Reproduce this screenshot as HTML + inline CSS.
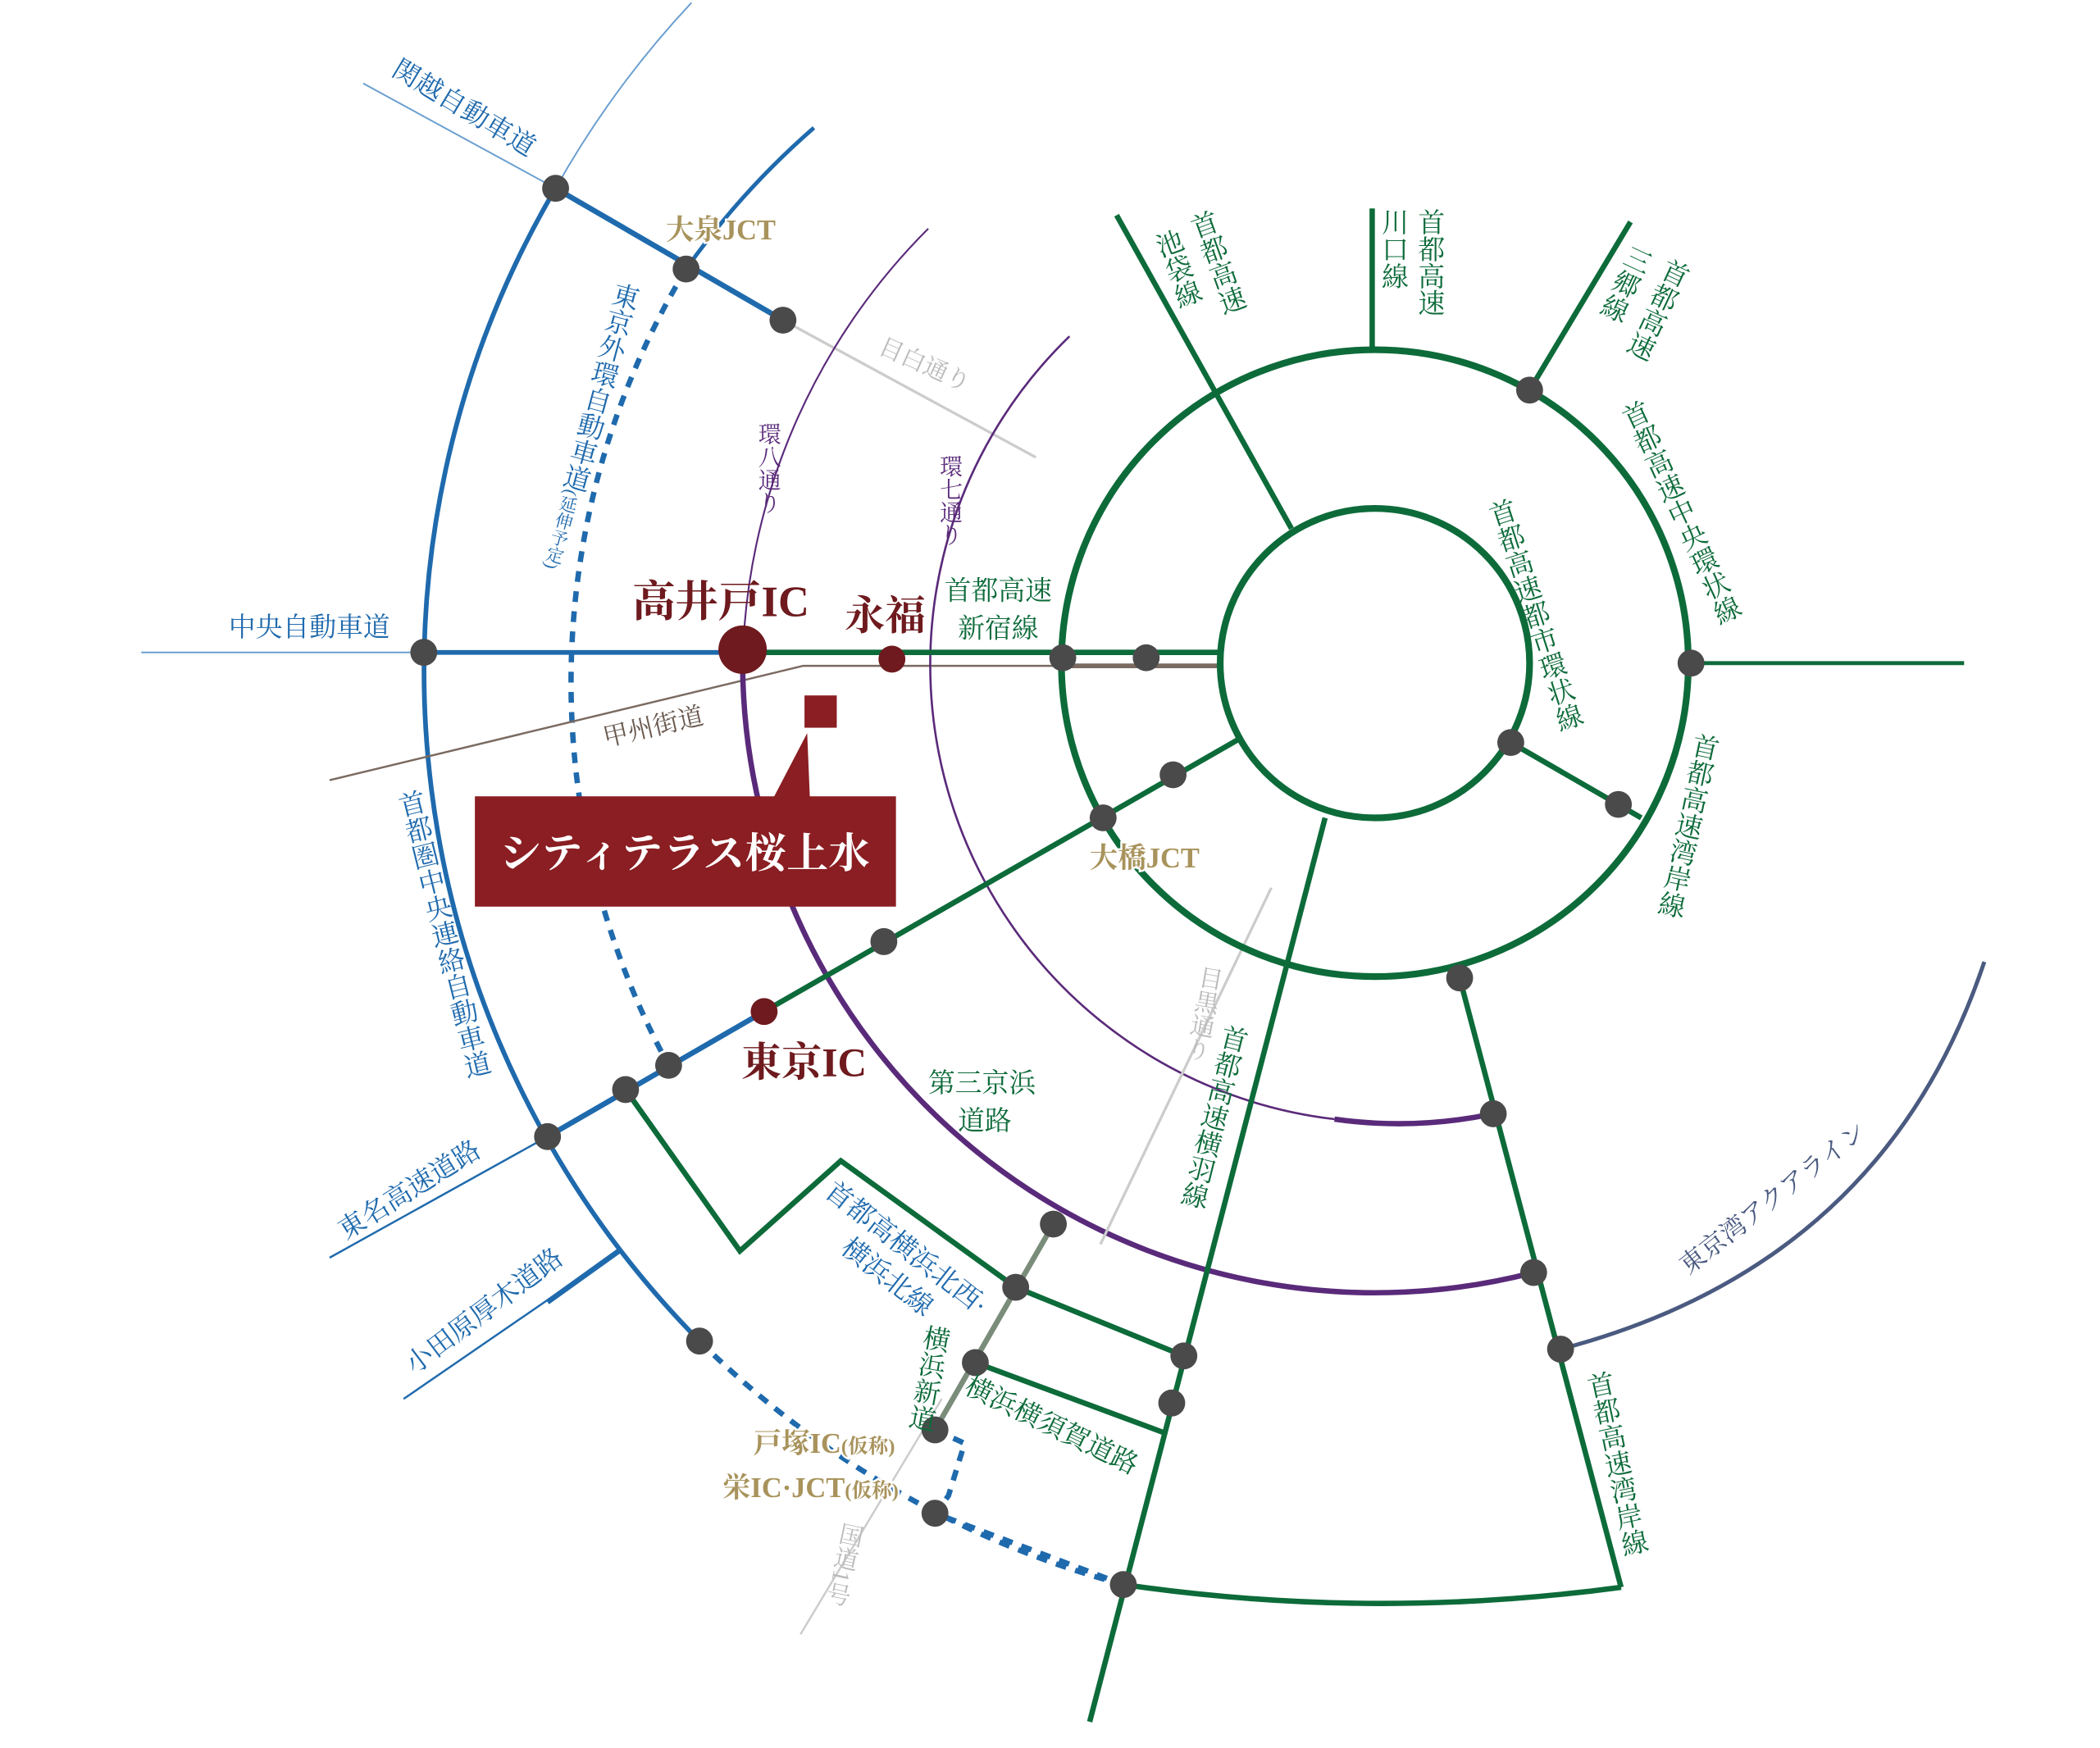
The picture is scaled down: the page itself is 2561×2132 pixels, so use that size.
<!DOCTYPE html>
<html><head><meta charset="utf-8"><style>
html,body{margin:0;padding:0;background:#fff}
svg{display:block}
text{font-family:"Liberation Serif","Noto Serif CJK SC","Noto Sans CJK JP",serif}
.v{writing-mode:vertical-rl}
.g{fill:#0d6b3a}.b{fill:#1f6aad}.p{fill:#5a2a7a}.gr{fill:#bbbbbb}
.gold{fill:#a8935c;stroke:#fff;stroke-width:3;paint-order:stroke;font-weight:bold}
.red{fill:#6e1a1e;font-weight:bold}
</style></head><body>
<svg width="2561" height="2132" viewBox="0 0 1561 1299.5" preserveAspectRatio="none" xmlns="http://www.w3.org/2000/svg">
<g fill="none" stroke-linecap="butt">
<path d="M514,2 A708,708 0 0 0 413,140" stroke="#6a9fd0" stroke-width="1.2"/>
<path d="M413,140 A708,708 0 0 0 520,997" stroke="#1f6aad" stroke-width="3.5"/>
<path d="M520,997 A708,708 0 0 0 835,1178" stroke="#1f6aad" stroke-width="4" stroke-dasharray="8,7"/>
<path d="M605,95 A595,595 0 0 0 510,200" stroke="#1f6aad" stroke-width="3"/>
<path d="M510,200 A595,595 0 0 0 497,792" stroke="#1f6aad" stroke-width="4" stroke-dasharray="8,7"/>
<path d="M270,62 L413,140" stroke="#6a9fd0" stroke-width="1.2"/>
<path d="M413,140 L582,238" stroke="#1f6aad" stroke-width="4"/>
<path d="M582,238 L770,340" stroke="#cccccc" stroke-width="2"/>
<path d="M105,485 L315,485" stroke="#6a9fd0" stroke-width="1.2"/>
<path d="M315,485 L553,485" stroke="#1f6aad" stroke-width="3.5"/>
<path d="M245,580 L597,495 L907,495" stroke="#7a6a60" stroke-width="1.5"/>
<path d="M790,495 L907,495" stroke="#7a6a60" stroke-width="3.5"/>
<path d="M690,170 A470,470 0 0 0 552,493" stroke="#5a2a7a" stroke-width="1.3"/>
<path d="M552,493 A470,470 0 0 0 1140,946" stroke="#5a2a7a" stroke-width="4"/>
<path d="M795,250 A340,340 0 0 0 992,832" stroke="#5a2a7a" stroke-width="1.6"/>
<path d="M992,832 A340,340 0 0 0 1110,828" stroke="#5a2a7a" stroke-width="4"/>
<path d="M818,925 L945,660" stroke="#cccccc" stroke-width="2"/>
<path d="M595,1215 L700,1040" stroke="#cccccc" stroke-width="1.5"/>
<path d="M695,1063 L783,910" stroke="#7a8c7a" stroke-width="4"/>
<circle cx="1022" cy="493" r="115" stroke="#0d6b3a" stroke-width="5"/>
<circle cx="1022" cy="493" r="233" stroke="#0d6b3a" stroke-width="5"/>
<g stroke="#0d6b3a" stroke-width="4">
<path d="M553,485 L907,485"/>
<path d="M830,160 L960,393"/>
<path d="M1020,155 L1020,260"/>
<path d="M1212,165 L1137,290"/>
<path d="M1257,493 L1460,493" stroke-width="3"/>
<path d="M1123,552 L1220,608"/>
<path d="M568,752 L920,550"/>
<path d="M985,608 L810,1280"/>
<path d="M1085,727 L1205,1180"/>
<path d="M835,1178 Q1020,1205 1205,1180"/>
<path d="M465,810 L550,930 L625,863 L755,957 L880,1008"/>
<path d="M725,1013 L865,1065"/>
</g>
<path d="M568,752 L407,845" stroke="#1f6aad" stroke-width="4"/>
<path d="M407,845 L245,935" stroke="#1f6aad" stroke-width="1.5"/>
<path d="M300,1040 L460,930" stroke="#1f6aad" stroke-width="1.5"/>
<path d="M460,930 L407,968" stroke="#1f6aad" stroke-width="4"/>
<path d="M695,1063 L717,1073 L705,1112 L695,1125 L835,1178" stroke="#1f6aad" stroke-width="4" stroke-dasharray="8,7"/>
<path d="M1160,1003 Q1400,940 1475,715" stroke="#4a5a80" stroke-width="3"/>
</g>
<g fill="#4a4a4a">
<circle cx="413" cy="140" r="10"/><circle cx="510" cy="200" r="10"/><circle cx="582" cy="238" r="10"/>
<circle cx="315" cy="485" r="10"/><circle cx="790" cy="489" r="10"/><circle cx="852" cy="489" r="10"/>
<circle cx="1137" cy="290" r="10"/><circle cx="1257" cy="493" r="10"/><circle cx="1123" cy="552" r="10"/>
<circle cx="1203" cy="598" r="10"/><circle cx="872" cy="576" r="10"/><circle cx="820" cy="608" r="10"/>
<circle cx="657" cy="700" r="10"/><circle cx="1085" cy="727" r="10"/><circle cx="1110" cy="828" r="10"/>
<circle cx="1140" cy="946" r="10"/><circle cx="1160" cy="1003" r="10"/><circle cx="497" cy="792" r="10"/>
<circle cx="465" cy="810" r="10"/><circle cx="407" cy="845" r="10"/><circle cx="520" cy="997" r="10"/>
<circle cx="783" cy="910" r="10"/><circle cx="755" cy="957" r="10"/><circle cx="880" cy="1008" r="10"/>
<circle cx="725" cy="1013" r="10"/><circle cx="871" cy="1043" r="10"/><circle cx="695" cy="1063" r="10"/>
<circle cx="695" cy="1125" r="10"/><circle cx="835" cy="1178" r="10"/>
</g>
<circle cx="552" cy="483" r="18" fill="#6e1a1e"/>
<circle cx="663" cy="490" r="10" fill="#6e1a1e"/>
<circle cx="568" cy="752" r="10" fill="#6e1a1e"/>
<rect x="598" y="517" width="24" height="24" fill="#8a1e22"/>
<path d="M575,593 L600,545 L602,593 Z" fill="#8a1e22"/>
<rect x="353" y="592" width="313" height="82" fill="#8a1e22"/>
<text x="509" y="645" text-anchor="middle" fill="#fff" font-size="31" font-weight="bold">シティテラス桜上水</text>
<text x="470" y="458" class="red" font-size="32">高井戸IC</text>
<text x="628" y="468" class="red" font-size="30">永福</text>
<text x="551" y="800" class="red" font-size="30">東京IC</text>
<text x="495" y="178" class="gold" font-size="21">大泉JCT</text>
<text x="810" y="645" class="gold" font-size="21">大橋JCT</text>
<text x="560" y="1080" class="gold" font-size="21">戸塚IC<tspan font-size="15">(仮称)</tspan></text>
<text x="537" y="1113" class="gold" font-size="21">栄IC·JCT<tspan font-size="15">(仮称)</tspan></text>
<g class="g" font-size="20">
<text class="v" transform="translate(890,158) rotate(-20)">首都高速</text>
<text class="v" transform="translate(864,172) rotate(-20)">池袋線</text>
<text x="1062" y="155" class="v">首都高速</text><text x="1035" y="155" class="v">川口線</text>
<text class="v" transform="translate(1248,193) rotate(25)">首都高速</text>
<text class="v" transform="translate(1220,183) rotate(25)">三郷線</text>
<text class="v" transform="translate(1210,300) rotate(-25)">首都高速中央環状線</text>
<text class="v" transform="translate(1112,372) rotate(-18)">首都高速都市環状線</text>
<text class="v" transform="translate(1268,545) rotate(12)">首都高速湾岸線</text>
<text x="702" y="446">首都高速</text><text x="712" y="474">新宿線</text>
<text class="v" transform="translate(918,762) rotate(14)">首都高速横羽線</text>
<text x="690" y="812">第三京浜</text><text x="712" y="840">道路</text>
<text class="v" transform="translate(696,985) rotate(10)">横浜新道</text>
<text transform="translate(716,1035) rotate(26)">横浜横須賀道路</text>
<text class="v" transform="translate(1186,1020) rotate(-12)">首都高速湾岸線</text>
</g>
<g class="b" font-size="20">
<text transform="translate(290,55) rotate(31)">関越自動車道</text>
<text class="v" transform="translate(466,210) rotate(15)">東京外環自動車道<tspan font-size="13">(延伸予定)</tspan></text>
<text x="170" y="473">中央自動車道</text>
<text class="v" transform="translate(302,588) rotate(-14)">首都圏中央連絡自動車道</text>
<text transform="translate(257,922) rotate(-32)">東名高速道路</text>
<text transform="translate(308,1022) rotate(-37)">小田原厚木道路</text>
<text transform="translate(612,888) rotate(38)">首都高横浜北西·</text>
<text transform="translate(624,930) rotate(38)">横浜北線</text>
</g>
<g class="p" font-size="17">
<text x="570" y="314" class="v">環八通り</text>
<text x="705" y="338" class="v">環七通り</text>
</g>
<g class="gr" font-size="18">
<text transform="translate(652,262) rotate(24)">目白通り</text>
<text class="v" transform="translate(900,718) rotate(10)">目黒通り</text>
<text class="v" transform="translate(633,1132) rotate(12)">国道1号</text>
</g>
<text x="450" y="555" font-size="19" fill="#6a5a50" transform="rotate(-13,450,555)">甲州街道</text>
<text transform="translate(1255,948) rotate(-38)" font-size="19" fill="#4a5a80">東京湾アクアライン</text>
</svg>
</body></html>
